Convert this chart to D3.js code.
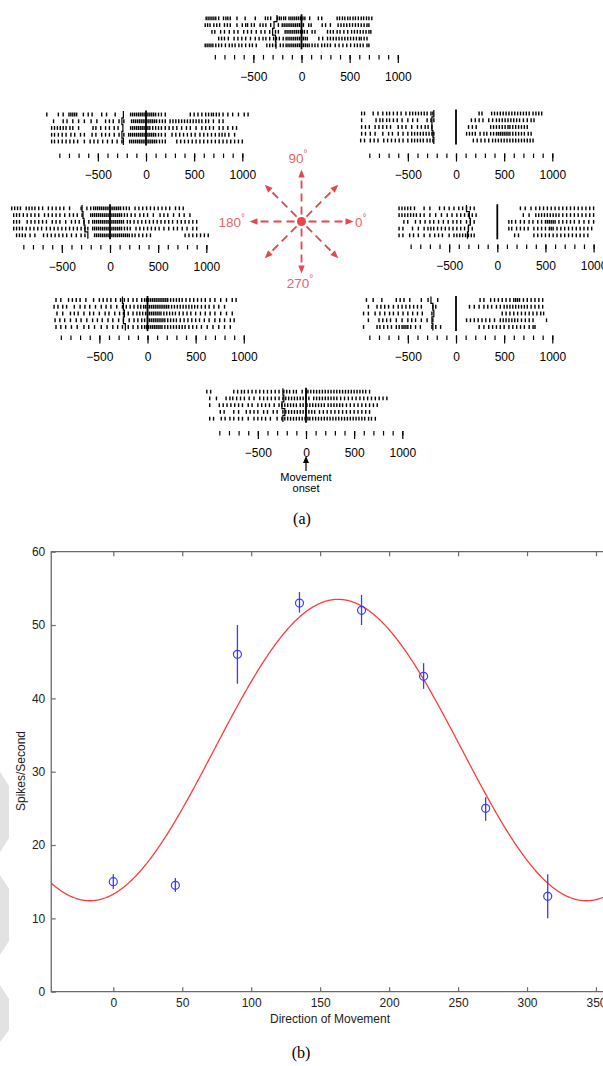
<!DOCTYPE html>
<html><head><meta charset="utf-8">
<script src="https://cdn.jsdelivr.net/npm/d3@7"></script>
<style>
html,body{margin:0;padding:0;background:#fff;}
svg{display:block;font-family:"Liberation Sans",Arial,Helvetica,sans-serif;}
</style></head><body>
<svg id="fig" width="603" height="1066"></svg>
<script>
// ---- Raster data: spike times (ms, relative to movement onset), five trials per direction ----
const spikes90 = [
  [-990,-970,-950,-930,-910,-890,-860,-810,-785,-765,-740,-670,-585,-480,-375,-350,-320,-250,-230,-210,-185,-165,-130,-110,-90,-70,-50,-30,-10,15,35,85,175,210,370,395,425,450,480,505,535,560,590,620,645,675,700,730],
  [-1000,-975,-950,-910,-880,-850,-800,-770,-740,-670,-615,-580,-560,-520,-490,-430,-400,-370,-320,-240,-200,-180,-160,-140,-120,-100,-80,-60,-40,-20,0,20,75,100,215,250,300,380,410,440,470,500,530,560,590,620,650,680,700],
  [-930,-900,-840,-800,-750,-700,-660,-600,-560,-520,-470,-420,-380,-330,-270,-240,-170,-150,-130,-110,-90,-70,-50,-30,-10,10,30,60,110,140,270,300,330,370,400,440,480,520,550,580,610,640,670,700,720],
  [-860,-830,-800,-760,-700,-660,-620,-580,-530,-480,-440,-400,-370,-330,-290,-260,-230,-190,-160,-140,-120,-100,-80,-60,-40,-20,0,20,40,60,180,220,270,300,330,360,390,420,450,480,510,540,570,600,620,650,680],
  [-1000,-980,-960,-940,-920,-890,-860,-830,-790,-750,-720,-690,-650,-620,-580,-540,-510,-470,-360,-330,-300,-270,-220,-190,-160,-140,-120,-100,-80,-60,-40,-20,0,20,40,60,80,110,140,170,210,240,270,300,350,390,430,470,510,550,580,610,640,680,700]
];
const spikes135 = [
  [-1030,-910,-860,-800,-780,-760,-740,-720,-650,-600,-560,-460,-410,-320,-160,-140,-120,-100,-80,-60,-40,-20,0,20,40,60,80,100,130,160,200,460,500,540,580,620,650,680,700,730,760,800,850,900,960,1020,1060],
  [-960,-860,-820,-760,-700,-640,-570,-510,-420,-380,-340,-280,-230,-150,-130,-110,-90,-70,-50,-30,-10,10,30,50,70,90,110,140,170,200,250,280,310,340,370,400,430,460,490,520,550,580,620,650,700,760,800],
  [-980,-950,-920,-890,-860,-830,-790,-760,-700,-550,-520,-470,-420,-380,-330,-290,-160,-140,-120,-100,-80,-60,-40,-20,0,20,40,70,100,130,160,200,240,280,320,370,420,460,520,580,620,660,700,760,800,850,900,940],
  [-980,-950,-910,-870,-830,-780,-740,-680,-640,-560,-520,-460,-420,-380,-330,-280,-230,-180,-160,-140,-120,-100,-80,-60,-40,-20,0,20,40,60,80,100,130,160,200,270,310,350,390,430,470,510,560,600,640,680,720,760,790,820,860,920],
  [-980,-950,-910,-870,-830,-790,-750,-710,-640,-580,-540,-500,-450,-400,-350,-300,-250,-170,-150,-130,-110,-90,-70,-50,-30,-10,10,30,50,70,90,110,140,170,200,320,360,400,440,480,520,560,600,640,680,720,760,800,840,880,920,960,1000]
];
const spikes180 = [
  [-1020,-990,-960,-930,-870,-840,-810,-780,-740,-700,-640,-600,-560,-520,-480,-420,-300,-240,-200,-170,-150,-130,-110,-90,-70,-50,-30,-10,10,30,50,70,90,110,140,170,200,260,300,340,380,420,460,500,540,580,620,680,720,760],
  [-1000,-970,-940,-900,-860,-820,-780,-740,-680,-640,-600,-560,-520,-470,-420,-380,-340,-290,-200,-180,-160,-140,-120,-100,-80,-60,-40,-20,0,20,40,60,80,100,120,150,180,220,260,310,350,390,450,520,560,600,660,720,770,830],
  [-1000,-970,-940,-860,-820,-780,-740,-700,-660,-600,-560,-520,-460,-400,-360,-320,-270,-220,-180,-160,-140,-120,-100,-80,-60,-40,-20,0,20,40,60,80,100,120,140,180,210,250,290,330,370,410,450,490,530,570,610,650,700,740,780,820,860,900],
  [-1000,-970,-940,-910,-870,-830,-790,-750,-710,-660,-620,-580,-540,-500,-460,-420,-380,-340,-300,-260,-230,-180,-160,-140,-120,-100,-80,-60,-40,-20,0,20,40,60,80,100,120,150,180,210,270,310,350,390,430,470,510,560,610,660,700,750,800,860,900],
  [-970,-940,-910,-880,-830,-780,-690,-650,-610,-570,-530,-490,-450,-400,-350,-300,-260,-160,-140,-120,-100,-80,-60,-40,-20,0,20,40,60,80,100,120,140,160,180,200,230,260,300,340,380,420,780,820,860,900,940,980,1020]
];
const spikes225 = [
  [-950,-900,-820,-780,-740,-700,-640,-560,-500,-460,-420,-380,-330,-280,-240,-200,-150,-110,-60,-30,-10,10,30,50,70,90,110,130,150,170,190,210,240,270,300,330,360,400,440,480,520,560,600,650,700,760,820,880,920],
  [-970,-930,-880,-840,-760,-700,-650,-600,-540,-480,-430,-380,-320,-260,-220,-180,-140,-100,-70,-40,-20,0,20,40,60,80,100,120,140,160,180,200,220,250,280,310,340,370,400,430,460,490,520,560,600,640,690,740,800],
  [-940,-880,-800,-760,-720,-660,-600,-560,-500,-440,-400,-340,-290,-250,-200,-150,-110,-80,-50,-20,0,20,40,60,80,100,120,140,170,200,230,260,290,330,370,410,450,500,550,600,650,700,760,820,880],
  [-960,-910,-860,-800,-740,-690,-630,-570,-520,-470,-410,-360,-300,-250,-190,-140,-100,-60,-30,0,20,40,60,80,100,120,140,160,180,210,240,270,300,340,380,420,460,500,540,590,640,700,750,800,860,900],
  [-950,-900,-850,-790,-730,-660,-610,-550,-480,-420,-360,-310,-260,-200,-150,-100,-60,-30,-10,10,30,50,70,90,110,130,150,180,210,240,270,300,330,360,390,430,470,510,560,620,680,740,800,860]
];
const spikes270 = [
  [-1030,-990,-750,-710,-670,-640,-600,-560,-520,-480,-440,-400,-360,-320,-280,-230,-200,-170,-130,-100,-40,0,20,50,80,110,140,170,200,230,260,290,320,350,380,410,440,470,500,530,560,590,620,660],
  [-1000,-930,-830,-790,-760,-720,-680,-640,-590,-540,-480,-440,-400,-360,-320,-280,-240,-210,-180,-150,-120,-90,-60,-30,0,30,80,110,140,170,200,230,260,290,320,360,400,440,480,520,560,600,640,680,720,760,800,840],
  [-1000,-900,-860,-820,-780,-740,-700,-660,-600,-560,-500,-460,-420,-380,-330,-280,-250,-220,-190,-160,-130,-100,-60,-30,10,40,70,100,130,160,190,230,260,290,320,350,380,420,460,500,540,580,620,660,700,740],
  [-890,-850,-750,-700,-620,-580,-540,-500,-440,-400,-340,-300,-240,-210,-180,-150,-120,-90,-60,-30,0,30,60,90,140,180,220,260,300,340,380,420,460,500,540,580,620,660],
  [-1000,-960,-880,-840,-790,-750,-700,-660,-600,-540,-500,-460,-420,-370,-300,-250,-220,-190,-160,-130,-100,-70,-40,-10,20,40,70,100,130,160,190,220,250,280,310,340,370,400,430,460,490,520,550,580,610,650,680,720]
];
const spikes315 = [
  [-930,-860,-770,-620,-580,-540,-480,-360,-290,-190,250,290,360,400,440,480,520,560,600,620,640,660,700,740,780,820,860,900],
  [-910,-820,-780,-740,-700,-650,-600,-560,-520,-480,-440,-400,-360,-240,-210,140,190,240,290,330,370,420,460,500,530,560,590,620,650,680,710,740,780,820,860,900],
  [-960,-910,-840,-790,-740,-690,-650,-600,-550,-500,-450,-400,-350,-250,480,520,560,600,640,680,720,760,800,840,880,910],
  [-910,-800,-760,-720,-680,-620,-560,-500,-460,-420,-360,-300,-240,110,150,190,230,270,310,350,400,460,490,520,550,580,610,640,680,720,760,800,940],
  [-960,-820,-790,-750,-710,-670,-620,-590,-560,-540,-520,-500,-470,-420,-370,-250,-210,-160,240,290,340,380,420,460,500,550,590,630,670,710,760,800,820]
];
const spikes0 = [
  [-1020,-990,-960,-930,-900,-860,-760,-700,-600,-550,-500,-450,-400,-360,-320,-280,-240,240,290,350,400,440,480,520,560,600,640,680,720,760,800,840,880,920,960,1000],
  [-1020,-990,-960,-930,-900,-870,-840,-800,-760,-700,-640,-580,-520,-470,-420,-380,-340,-300,-260,-220,270,330,400,430,460,490,520,550,580,610,640,680,720,760,800,840,880,920,960,1000],
  [-970,-930,-850,-800,-750,-700,-660,-610,-560,-510,-460,-420,-380,-320,-280,-240,120,150,190,240,280,330,370,420,460,500,520,540,560,580,600,640,680,720,760,800,850,900,950,1000],
  [-1020,-980,-880,-820,-760,-720,-690,-660,-620,-580,-540,-500,-460,-420,-380,-340,-300,-260,120,150,200,240,280,320,380,420,460,500,540,560,580,620,660,700,740,780,820,860,900,940,980],
  [-1020,-980,-910,-870,-820,-760,-700,-650,-610,-570,-500,-450,-420,-390,-360,-330,-300,-270,-240,180,220,380,420,460,500,540,580,620,660,700,740,780,820,860,900,940]
];
const spikes45 = [
  [-980,-950,-860,-810,-760,-720,-690,-650,-610,-570,-520,-480,-450,-420,-390,-360,-330,-300,-260,-240,240,270,370,400,430,460,490,520,550,580,610,640,670,700,730,760,800,830,860,890],
  [-980,-830,-790,-760,-720,-690,-650,-610,-560,-500,-450,-400,-300,-260,-230,160,200,240,280,340,380,420,450,480,510,540,570,600,630,660,700,740,780,810],
  [-980,-940,-900,-840,-800,-760,-720,-680,-600,-560,-520,-460,-400,-360,-320,-290,-250,130,170,210,360,390,420,450,480,510,540,560,590,620,650,680,710,740],
  [-980,-940,-890,-840,-760,-700,-660,-600,-550,-500,-460,-430,-400,-370,-340,-310,-280,-250,-230,110,140,170,200,250,290,320,360,390,420,440,460,480,500,520,540,560,590,620,650,680,710,750,780],
  [-990,-950,-890,-850,-810,-750,-710,-670,-630,-590,-550,-500,-460,-430,-400,-370,-340,-300,-270,-240,180,220,260,300,340,380,410,440,470,500,530,560,590,620,650,680,710,740,770,800]
];
// target-onset markers per trial (ms)
const marks90 = [-255,-285,-300,-270,-265];
const marks135 = [-235,-250,-240,-250,-235];
const marks180 = [-290,-280,-270,-260,-230];
const marks225 = [-260,-250,-240,-250,-230];
const marks270 = [-240,-230,-250,-220,-240];
const marks315 = [-260,-240,-230,-250,-240];
const marks0 = [-320,-290,-280,-300,-310];
const marks45 = [-230,-250,-250,-240,-230];

const rasterTicks = d3.range(-900, 1001, 100);
const rasterMajorTicks = [-500, 0, 500, 1000];

// ---- Tuning curve data ----
const directions = [0, 45, 90, 135, 180, 225, 270, 315];
const meanRates  = [15, 14.5, 46, 53, 52, 43, 25, 13];
const rateLow    = [14, 13.6, 42, 51.7, 50, 41.3, 23.3, 10];
const rateHigh   = [16, 15.5, 50, 54.5, 54.1, 44.8, 26.5, 16];
// cosine fit: rate = b0 + b1*cos(theta - thetaPref)
const fitB0 = 32.95, fitB1 = 20.55, fitPref = 163;
const rateTicks = [0, 10, 20, 30, 40, 50, 60];
const dirTicks = [0, 50, 100, 150, 200, 250, 300, 350];
const compassAngles = [0, 45, 90, 135, 180, 225, 270, 315];

const svg = d3.select("#fig");
const K = 0.0963; // px per ms in each raster
const ROW = 6.75;

// decorative light-gray shapes at the left edge
const edgeShapes = [
  [[0,772],[9,786],[9,838],[0,852]],
  [[0,875],[9,889],[9,941],[0,955]],
  [[0,985],[9,999],[9,1030],[0,1042]]
];
svg.selectAll("polygon.edge").data(edgeShapes).join("polygon")
  .attr("class","edge").attr("fill","#e2e2e2")
  .attr("points", d => d.map(p => p.join(",")).join(" "));

const panels = [
  {spikes: spikes90,  marks: marks90,  x0: 301.5, y0: 18.3,  axisTop: 55},
  {spikes: spikes135, marks: marks135, x0: 146,   y0: 114.5, axisTop: 153.5},
  {spikes: spikes45,  marks: marks45,  x0: 456,   y0: 113.5, axisTop: 153.5},
  {spikes: spikes180, marks: marks180, x0: 110,   y0: 208.3, axisTop: 245},
  {spikes: spikes0,   marks: marks0,   x0: 497.3, y0: 208.3, axisTop: 244.5},
  {spikes: spikes225, marks: marks225, x0: 147.5, y0: 300,   axisTop: 335.5},
  {spikes: spikes315, marks: marks315, x0: 456,   y0: 300,   axisTop: 335.5},
  {spikes: spikes270, marks: marks270, x0: 306,   y0: 391.7, axisTop: 431}
];

panels.forEach(p => {
  const x = d3.scaleLinear().domain([0, 1000]).range([p.x0, p.x0 + 1000 * K]);
  const g = svg.append("g");
  p.spikes.forEach((row, i) => {
    const rowY = p.y0 + i * ROW;
    g.selectAll(null).data(row).join("line")
      .attr("x1", d => x(d)).attr("x2", d => x(d))
      .attr("y1", rowY - 1.9).attr("y2", rowY + 1.9)
      .attr("stroke", "#000").attr("stroke-width", 1.4);
  });
  // target marker (one per trial, joined)
  const pts = [];
  p.marks.forEach((m, i) => {
    const rowY = p.y0 + i * ROW;
    pts.push([x(m), rowY - 3.4], [x(m), rowY + 3.4]);
  });
  g.append("path").attr("d", d3.line()(pts))
    .attr("fill", "none").attr("stroke", "#000").attr("stroke-width", 1.2);
  // movement onset line
  g.append("line").attr("x1", x(0)).attr("x2", x(0))
    .attr("y1", p.y0 - 4).attr("y2", p.y0 + 4 * ROW + 4)
    .attr("stroke", "#000").attr("stroke-width", 1.8);
  // time axis: minor ticks, then major ticks with labels
  const minor = d3.axisBottom(x).tickValues(rasterTicks).tickSize(4.5).tickSizeOuter(0).tickFormat("");
  const major = d3.axisBottom(x).tickValues(rasterMajorTicks).tickSize(8).tickSizeOuter(0).tickPadding(9)
    .tickFormat(d => d < 0 ? "\u2212" + Math.abs(d) : d);
  const ga = g.append("g").attr("transform", `translate(0,${p.axisTop})`).call(minor);
  const gb = g.append("g").attr("transform", `translate(0,${p.axisTop})`).call(major);
  [ga, gb].forEach(a => {
    a.select(".domain").remove();
    a.selectAll("line").attr("stroke", "#000").attr("stroke-width", 1.2);
  });
  gb.selectAll("text").attr("fill", "#000").attr("font-size", 12)
    .attr("font-family", "'Liberation Sans', Arial, sans-serif");
});

// movement onset annotation under the 270 deg raster
const ann = svg.append("g");
ann.append("line").attr("x1", 306).attr("x2", 306).attr("y1", 471).attr("y2", 460)
  .attr("stroke", "#000").attr("stroke-width", 1.2);
ann.append("path").attr("d", "M306,456 L303,463 L309,463 Z").attr("fill", "#000");
ann.append("text").attr("x", 306).attr("y", 481).attr("text-anchor", "middle")
  .attr("font-size", 11).text("Movement");
ann.append("text").attr("x", 306).attr("y", 492).attr("text-anchor", "middle")
  .attr("font-size", 11).text("onset");

// direction compass
const compX = 301.5, compY = 221.5, R = 52;
const red = "#e5474c";
const comp = svg.append("g");
compassAngles.forEach(a => {
  const rad = a * Math.PI / 180;
  const ux = Math.cos(rad), uy = -Math.sin(rad);
  comp.append("line")
    .attr("x1", compX + ux * 7).attr("y1", compY + uy * 7)
    .attr("x2", compX + ux * (R - 5)).attr("y2", compY + uy * (R - 5))
    .attr("stroke", red).attr("stroke-width", 1.8).attr("stroke-dasharray", "8,5");
  const tx = compX + ux * R, ty = compY + uy * R;
  const bx = compX + ux * (R - 8), by = compY + uy * (R - 8);
  const px = -uy * 3.2, py = ux * 3.2;
  comp.append("path")
    .attr("d", `M${tx},${ty} L${bx + px},${by + py} L${bx - px},${by - py} Z`)
    .attr("fill", red);
});
comp.append("circle").attr("cx", compX).attr("cy", compY).attr("r", 4.5).attr("fill", red);
const labelPos = [
  {t: "0",   x: 355, y: 227, anchor: "start"},
  {t: "90",  x: 298, y: 163, anchor: "middle"},
  {t: "180", x: 245, y: 227, anchor: "end"},
  {t: "270", x: 300, y: 288, anchor: "middle"}
];
labelPos.forEach(l => {
  const t = comp.append("text").attr("x", l.x).attr("y", l.y).attr("text-anchor", l.anchor)
    .attr("fill", "#e8656a").attr("font-size", 13.5);
  t.append("tspan").text(l.t);
  t.append("tspan").attr("font-size", 10).attr("dy", -6).text("\u00b0");
});

// panel captions
svg.append("text").attr("x", 302).attr("y", 524).attr("text-anchor", "middle")
  .attr("font-family", "'Liberation Serif','Times New Roman',serif").attr("font-size", 16).text("(a)");
svg.append("text").attr("x", 301).attr("y", 1058).attr("text-anchor", "middle")
  .attr("font-family", "'Liberation Serif','Times New Roman',serif").attr("font-size", 16).text("(b)");

// ---- Tuning curve plot ----
const xs = d3.scaleLinear().domain([-45, 360]).range([51.24, 51.24 + 405 * 1.3791]);
const ys = d3.scaleLinear().domain([0, 60]).range([991.7, 551.7]);
const axisColor = "#6a6a6a";
const plot = svg.append("g");

// fitted cosine curve
const fitCurve = d3.range(-45, 360.5, 0.5).map(t => [t, fitB0 + fitB1 * Math.cos((t - fitPref) * Math.PI / 180)]);
plot.append("path").attr("d", d3.line().x(d => xs(d[0])).y(d => ys(d[1]))(fitCurve))
  .attr("fill", "none").attr("stroke", "#ff3b3b").attr("stroke-width", 1.3);

// error bars and markers
const blue = "#3a3aff";
plot.selectAll("line.err").data(directions).join("line").attr("class", "err")
  .attr("x1", d => xs(d)).attr("x2", d => xs(d))
  .attr("y1", (d, i) => ys(rateLow[i])).attr("y2", (d, i) => ys(rateHigh[i]))
  .attr("stroke", blue).attr("stroke-width", 1.3);
plot.selectAll("circle.pt").data(directions).join("circle").attr("class", "pt")
  .attr("cx", d => xs(d)).attr("cy", (d, i) => ys(meanRates[i])).attr("r", 4)
  .attr("fill", "none").attr("stroke", blue).attr("stroke-width", 1.2);

// axes box (left, bottom, top)
const boxL = xs(-45), boxR = xs(360), boxT = ys(60), boxB = ys(0);
const box = plot.append("g").attr("stroke", axisColor).attr("stroke-width", 1.3).attr("fill", "none");
box.append("path").attr("d", `M${boxR},${boxT} L${boxL},${boxT} L${boxL},${boxB} L${boxR},${boxB}`);

const xb = d3.axisBottom(xs).tickValues(dirTicks).tickSize(-4.5).tickSizeOuter(0).tickPadding(7);
const xt = d3.axisTop(xs).tickValues(dirTicks).tickSize(-4.5).tickSizeOuter(0).tickFormat("");
const yl = d3.axisLeft(ys).tickValues(rateTicks).tickSize(-4.5).tickSizeOuter(0).tickPadding(6);
const gxb = plot.append("g").attr("transform", `translate(0,${boxB})`).call(xb);
const gxt = plot.append("g").attr("transform", `translate(0,${boxT})`).call(xt);
const gyl = plot.append("g").attr("transform", `translate(${boxL},0)`).call(yl);
[gxb, gxt, gyl].forEach(a => {
  a.select(".domain").remove();
  a.selectAll("line").attr("stroke", axisColor).attr("stroke-width", 1.2);
  a.selectAll("text").attr("fill", "#222").attr("font-size", 12)
    .attr("font-family", "'Liberation Sans', Arial, sans-serif");
});
gxb.selectAll("text").attr("dy", "0.71em").attr("y", 7);

plot.append("text").attr("x", 330).attr("y", 1023).attr("text-anchor", "middle")
  .attr("font-size", 12).attr("fill", "#222").text("Direction of Movement");
plot.append("text").attr("transform", "translate(25,771) rotate(-90)").attr("text-anchor", "middle")
  .attr("font-size", 12).attr("fill", "#222").text("Spikes/Second");
</script>
</body></html>
